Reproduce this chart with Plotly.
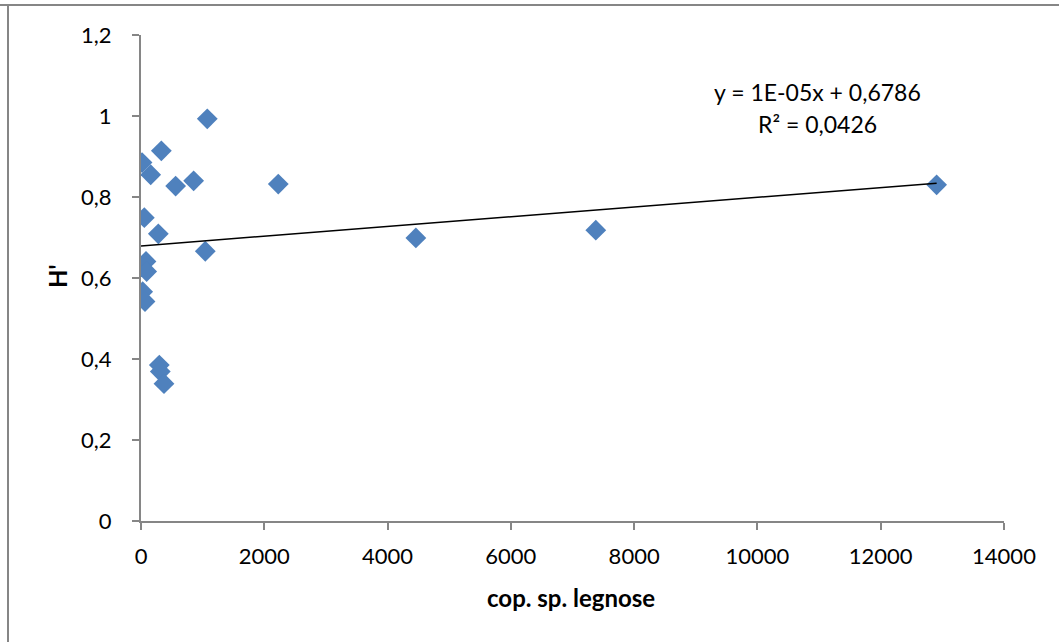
import numpy as np
import plotly.graph_objects as go

# Data
cop_sp_legnose = [1075, 330, 17, 157, 562, 854, 2227, 54, 281, 1043, 81, 92, 27, 65,
                  297, 313, 373, 4459, 7378, 12907]
h_prime = [0.993, 0.914, 0.885, 0.855, 0.827, 0.840, 0.832, 0.749, 0.709, 0.666,
           0.641, 0.616, 0.566, 0.542, 0.385, 0.369, 0.339, 0.699, 0.718, 0.830]

x_tickvals = [0, 2000, 4000, 6000, 8000, 10000, 12000, 14000]
x_ticktext = ["0", "2000", "4000", "6000", "8000", "10000", "12000", "14000"]
y_tickvals = [0, 0.2, 0.4, 0.6, 0.8, 1.0, 1.2]
y_ticktext = ["0", "0,2", "0,4", "0,6", "0,8", "1", "1,2"]

eq_text = "y = 1E-05x + 0,6786"
r2_text = "R² = 0,0426"

slope, intercept = np.polyfit(cop_sp_legnose, h_prime, 1)
trend_x = [0, max(cop_sp_legnose)]
trend_y = [intercept + slope * v for v in trend_x]

FONT = "Lato"
axis_col = "#868686"
PW, PH = 863, 486

fig = go.Figure()
fig.add_trace(go.Scatter(
    x=cop_sp_legnose, y=h_prime, mode="markers",
    marker=dict(symbol="diamond", size=16, color="#4F81BD",
                line=dict(width=0)),
    showlegend=False, hoverinfo="x+y"))
fig.add_trace(go.Scatter(
    x=trend_x, y=trend_y, mode="lines",
    line=dict(color="black", width=1.5), showlegend=False, hoverinfo="skip"))

fig.update_layout(
    width=1059, height=642,
    margin=dict(l=141, r=55, t=35, b=121),
    plot_bgcolor="white", paper_bgcolor="white",
    font=dict(family=FONT, size=22, color="black"),
    xaxis=dict(range=[0, 14000], tickvals=x_tickvals, ticktext=x_ticktext,
               showgrid=False, zeroline=False, showline=True, linecolor=axis_col,
               linewidth=2, ticks="outside", ticklen=7, tickwidth=2, tickcolor=axis_col,
               ticklabelstandoff=8, tickfont=dict(size=22)),
    yaxis=dict(range=[0, 1.2], tickvals=y_tickvals, ticktext=y_ticktext,
               showgrid=False, zeroline=False, showline=True, linecolor=axis_col,
               linewidth=2, ticks="outside", ticklen=7, tickwidth=2, tickcolor=axis_col,
               ticklabelstandoff=16, tickfont=dict(size=22)),
    shapes=[
        dict(type="line", xref="paper", yref="paper", x0=-141/PW, x1=(1059-141)/PW,
             y0=1 + 30/PH, y1=1 + 30/PH, line=dict(color=axis_col, width=2)),
        dict(type="line", xref="paper", yref="paper", x0=-133/PW, x1=-133/PW,
             y0=1 + 30/PH, y1=-121/PH, line=dict(color=axis_col, width=2)),
    ],
    annotations=[
        dict(text="<b>H'</b>", xref="paper", yref="paper", x=(57-141)/PW, y=(521-276)/PH,
             showarrow=False, textangle=-90, font=dict(size=24),
             xanchor="center", yanchor="middle"),
        dict(text="<b>cop. sp. legnose</b>", xref="paper", yref="paper",
             x=(571-141)/PW, y=(521-597)/PH, showarrow=False, font=dict(size=24),
             xanchor="center", yanchor="middle"),
        dict(text=eq_text, x=10978, y=1.059, xref="x", yref="y", showarrow=False,
             font=dict(size=23), xanchor="center", yanchor="middle"),
        dict(text=r2_text, x=10978, y=0.980, xref="x", yref="y", showarrow=False,
             font=dict(size=23), xanchor="center", yanchor="middle"),
    ],
)

fig.write_html("out.html", config={"displayModeBar": False},
               post_script="document.body.style.margin='0px';")
